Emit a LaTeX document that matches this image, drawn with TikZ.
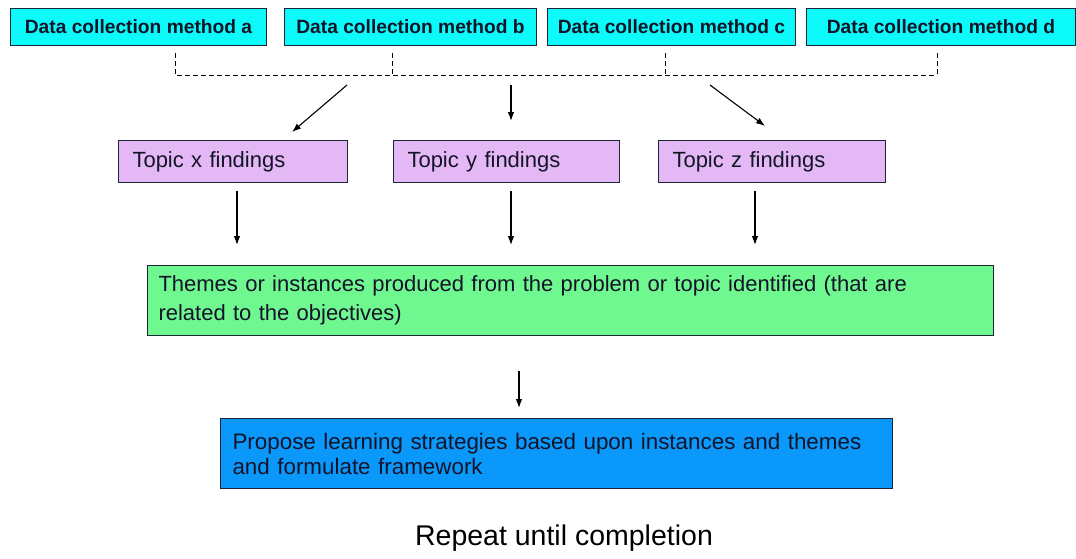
\documentclass[tikz,border=0pt]{standalone}
\usepackage{fontspec}
\setmainfont{Liberation Sans}
\usetikzlibrary{positioning,arrows.meta}

\definecolor{methodcyan}{HTML}{0CFAFA}
\definecolor{topiclilac}{HTML}{E4B8F4}
\definecolor{themegreen}{HTML}{70F890}
\definecolor{strategyblue}{HTML}{0A98FA}
\definecolor{boxline}{HTML}{1C2436}
\definecolor{textnavy}{HTML}{141428}

\begin{document}
\begin{tikzpicture}[x=1pt, y=-1pt,
    box/.style={draw=boxline, line width=1pt, inner ysep=0pt, text=textnavy},
    methodbox/.style={box, fill=methodcyan, minimum height=37pt, inner xsep=0pt,
      font=\bfseries\fontsize{19.2}{22}\selectfont},
    topicbox/.style={box, fill=topiclilac, minimum height=42pt, inner xsep=14pt,
      align=left, font=\fontsize{22}{26}\selectfont},
    widebox/.style={box, minimum height=70pt, align=left,
      font=\fontsize{22}{29}\selectfont},
    arr/.style={-{Latex[length=9pt,width=6.5pt]}, line width=1.1pt, black}]
  \useasboundingbox (0,0) rectangle (1076,558);

  \node[methodbox, minimum width=256pt, anchor=north west] (methodA) at (10,8) {Data collection method a};
  \node[methodbox, minimum width=252pt, right=17pt of methodA] (methodB) {Data collection method b};
  \node[methodbox, minimum width=248pt, right=10pt of methodB] (methodC) {Data collection method c};
  \node[methodbox, minimum width=269pt, right=10pt of methodC] (methodD) {Data collection method d};

  \coordinate (joinA) at (175,75);
  \coordinate (joinB) at (392,75);
  \coordinate (joinC) at (665,75);
  \coordinate (joinD) at (937,75);

  \draw[dashed, dash pattern=on 5pt off 3pt, line width=0.9pt, shorten <=7pt] (joinA |- methodA.south) -- (joinA) -- (joinD);
  \draw[dashed, dash pattern=on 5pt off 3pt, line width=0.9pt, shorten <=7pt] (joinD |- methodD.south) -- (joinD);
  \draw[dashed, dash pattern=on 5pt off 3pt, line width=0.9pt, shorten <=7pt] (joinB |- methodB.south) -- (joinB);
  \draw[dashed, dash pattern=on 5pt off 3pt, line width=0.9pt, shorten <=7pt] (joinC |- methodC.south) -- (joinC);

  \node[topicbox, text width=201pt, anchor=north west] (topicX) at (118,140) {Topic x findings};
  \node[topicbox, text width=198pt, right=45pt of topicX] (topicY) {Topic y findings};
  \node[topicbox, text width=199pt, right=38pt of topicY] (topicZ) {Topic z findings};

  \coordinate (splitX) at (347,85);
  \coordinate (splitY) at (511,85);
  \coordinate (splitZ) at (710,85);
  \coordinate (tipX) at (292,132);
  \coordinate (tipY) at (511,121);
  \coordinate (tipZ) at (765,126);

  \draw[arr] (splitX) -- (tipX);
  \draw[arr] (splitY) -- (tipY);
  \draw[arr] (splitZ) -- (tipZ);

  \node[widebox, fill=themegreen, inner xsep=11pt, text width=824pt, anchor=north west] (themes) at (147,265)
    {Themes or instances produced from the problem or topic identified (that are\\related to the objectives)};

  \coordinate (colX) at (237,0);
  \coordinate (colY) at (511,0);
  \coordinate (colZ) at (755,0);

  \draw[arr, shorten <=8pt, shorten >=20pt] (colX |- topicX.south) -- (colX |- themes.north);
  \draw[arr, shorten <=8pt, shorten >=20pt] (colY |- topicY.south) -- (colY |- themes.north);
  \draw[arr, shorten <=8pt, shorten >=20pt] (colZ |- topicZ.south) -- (colZ |- themes.north);

  \node[widebox, fill=strategyblue, inner xsep=12pt, text width=648pt, anchor=north west,
    font=\fontsize{22.4}{25}\selectfont] (strategy) at (220,418)
    {Propose learning strategies based upon instances and themes\\and formulate framework};

  \coordinate (colS) at (519,0);
  \draw[arr, shorten <=35pt, shorten >=10pt] (colS |- themes.south) -- (colS |- strategy.north);

  \node[font=\fontsize{28.5}{32}\selectfont] (repeat) at (564,538) {Repeat until completion};
\end{tikzpicture}
\end{document}
